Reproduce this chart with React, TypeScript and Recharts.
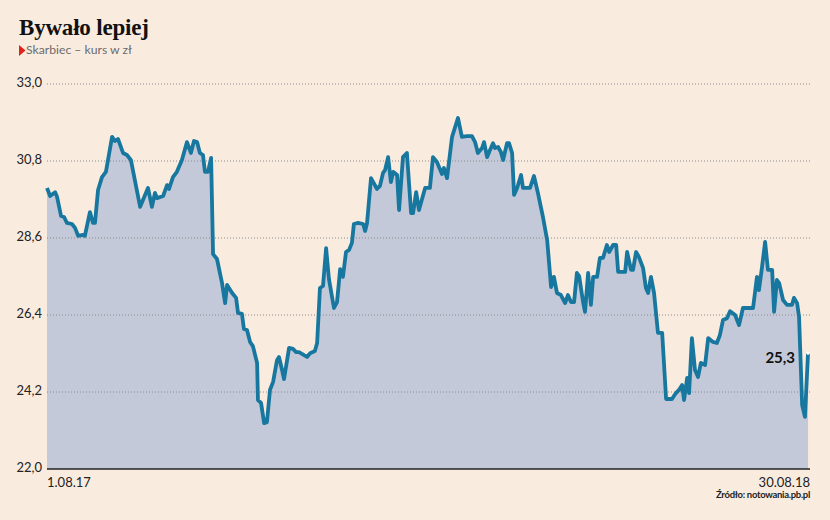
import { ComposedChart, Area, Line, XAxis, YAxis, ReferenceLine } from "recharts";

// numer sesji od 1.08.17 (odczyt z wykresu)
const sesja = [
  0, 1.1, 2.9, 3.6, 5.0, 6.1, 7.1, 8.9, 10.0, 11.1,
  12.8, 13.5, 15.3, 16.4, 17.1, 18.2, 19.6, 21.0, 23.2, 24.2,
  25.3, 27.1, 28.5, 29.9, 33.2, 36.0, 37.4, 38.5, 39.2, 41.4,
  42.8, 43.5, 44.9, 46.3, 48.1, 49.9, 51.3, 52.4, 53.5, 54.5,
  55.6, 56.3, 57.4, 58.5, 59.2, 60.6, 62.4, 63.5, 64.2, 66.0,
  67.4, 68.1, 69.5, 70.2, 71.3, 72.4, 73.4, 74.9, 75.2, 76.3,
  77.4, 78.4, 79.5, 80.6, 82.0, 82.7, 83.8, 84.5, 86.3, 87.7,
  88.8, 89.8, 90.9, 92.7, 93.8, 95.5, 96.3, 97.3, 98.4, 99.5,
  100.5, 102.3, 103.4, 104.5, 105.5, 106.6, 107.7, 108.7, 109.4, 110.9,
  112.7, 113.4, 114.1, 115.5, 116.9, 117.6, 118.7, 119.8, 120.5, 121.6,
  122.6, 123.4, 124.8, 125.5, 126.9, 128.3, 129.8, 130.5, 131.6, 132.6,
  134.8, 136.5, 137.6, 139.0, 140.8, 141.5, 142.6, 144.4, 146.5, 147.9,
  149.7, 151.5, 152.6, 153.6, 155.1, 155.8, 156.9, 157.9, 159.0, 159.7,
  160.8, 161.8, 162.6, 164.0, 164.7, 165.8, 166.5, 167.6, 169.0, 169.7,
  172.2, 173.6, 175.0, 176.8, 178.3, 179.7, 180.7, 181.8, 183.2, 184.7,
  185.7, 186.8, 187.9, 188.9, 189.7, 191.1, 191.8, 192.9, 193.9, 194.7,
  196.1, 197.1, 198.2, 199.6, 200.4, 201.8, 202.9, 203.6, 206.1, 206.8,
  208.2, 208.9, 210.0, 211.0, 212.5, 213.5, 214.3, 215.3, 216.4, 217.8,
  219.3, 220.7, 222.8, 224.2, 225.3, 226.4, 227.1, 228.2, 228.9, 229.9,
  231.0, 232.1, 233.1, 234.6, 235.7, 237.4, 238.8, 239.9, 241.0, 242.4,
  243.5, 245.3, 246.7, 248.1, 251.7, 253.1, 253.8, 254.9, 256.0, 257.0,
  258.5, 259.2, 260.2, 261.0, 262.4, 263.8, 265.6, 266.3, 267.4, 268.1,
  269.2, 270.2, 271.3,
];

// kurs Skarbca w zł
const kurs = [
  30.03, 29.80, 29.91, 29.77, 29.23, 29.20, 29.03, 29.00, 28.89, 28.66,
  28.69, 28.66, 29.34, 29.03, 29.03, 29.97, 30.34, 30.49, 31.49, 31.37,
  31.43, 31.03, 30.97, 30.83, 29.49, 30.03, 29.49, 29.89, 29.74, 29.80,
  30.11, 30.00, 30.34, 30.49, 30.83, 31.34, 31.03, 31.37, 31.34, 31.03,
  30.97, 30.49, 30.49, 30.89, 28.14, 28.00, 27.31, 26.74, 27.26, 27.03,
  26.89, 26.46, 26.43, 26.00, 25.97, 25.63, 25.51, 25.03, 23.97, 23.89,
  23.31, 23.34, 24.26, 24.49, 25.11, 25.20, 24.83, 24.57, 25.46, 25.43,
  25.34, 25.34, 25.29, 25.20, 25.31, 25.37, 25.60, 27.17, 27.23, 28.31,
  27.43, 26.60, 26.77, 27.71, 27.49, 28.20, 28.26, 28.46, 29.00, 29.03,
  29.00, 28.80, 29.03, 30.31, 30.11, 30.00, 30.09, 30.46, 30.54, 30.91,
  30.20, 30.49, 30.40, 29.40, 30.91, 31.03, 29.31, 29.31, 29.91, 29.40,
  30.03, 30.03, 30.91, 30.77, 30.43, 30.60, 30.31, 31.49, 32.03, 31.49,
  31.51, 31.51, 31.34, 31.03, 31.17, 31.34, 30.91, 31.11, 31.31, 31.17,
  31.20, 31.06, 30.83, 31.31, 31.31, 31.03, 29.83, 30.03, 30.40, 30.03,
  30.03, 30.37, 29.89, 29.20, 28.54, 27.20, 27.49, 27.03, 26.97, 26.74,
  26.97, 26.77, 26.77, 27.60, 27.51, 26.77, 26.49, 27.60, 26.69, 27.49,
  27.49, 28.03, 28.03, 28.40, 28.20, 28.40, 28.40, 27.63, 27.63, 28.20,
  27.69, 27.69, 28.20, 28.06, 27.74, 27.17, 27.03, 27.49, 27.03, 25.89,
  25.89, 24.00, 24.00, 24.17, 24.26, 24.40, 23.97, 24.60, 24.17, 25.74,
  24.83, 24.63, 25.03, 24.97, 25.74, 25.63, 25.60, 25.83, 26.26, 26.31,
  26.51, 26.40, 26.11, 26.60, 26.60, 27.49, 27.11, 27.77, 28.49, 27.69,
  27.69, 26.49, 27.40, 27.31, 26.83, 26.69, 26.69, 26.89, 26.74, 26.34,
  23.83, 23.49, 25.31,
];

const ticksY = [22, 24.2, 26.4, 28.6, 30.8, 33];
const ticksX = [0, 272];
const etykietyX = ["1.08.17", "30.08.18"];
const ostatniKurs = "25,3";

const dane = sesja.map((s, i) => ({ s, kurs: kurs[i] }));
const last = dane.length - 1;

const BLUE = "#17779f";
const fmt = (v: number) => v.toFixed(1).replace(".", ",");

const TickY = (props: any) => (
  <text x={props.x} y={props.y} dy={3} textAnchor="end" fontSize={13} fill="#222" fontFamily="Lato">
    {fmt(props.payload.value)}
  </text>
);

const TickX = (props: any) => {
  const i = ticksX.indexOf(props.payload.value);
  return (
    <text x={props.x} y={props.y} dy={18} textAnchor={i === 0 ? "start" : "end"} fontSize={13} fill="#222" fontFamily="Lato">
      {etykietyX[i]}
    </text>
  );
};

export default function App() {
  return (
    <div style={{ position: "absolute", left: 0, top: 0, width: 830, height: 520, background: "#faebdf", fontFamily: "Lato" }}>
      <div style={{ position: "absolute", left: 19, top: 15, fontFamily: "Liberation Serif", fontWeight: 700, fontSize: 23, lineHeight: "26px", color: "#111", letterSpacing: -0.2 }}>
        Bywało lepiej
      </div>
      <svg style={{ position: "absolute", left: 19, top: 45 }} width={7} height={12}>
        <polygon points="0,0 0,11 6.5,5.5" fill="#e2231a" />
      </svg>
      <div style={{ position: "absolute", left: 26, top: 42, fontSize: 12.2, lineHeight: "16px", color: "#6b6b6b" }}>
        Skarbiec – kurs w zł
      </div>
      <ComposedChart width={830} height={520} data={dane} margin={{ top: 84, right: 20, bottom: 21, left: 7 }}>
        <XAxis
          dataKey="s"
          type="number"
          domain={[0, 272]}
          ticks={ticksX}
          height={30}
          tickSize={0}
          tickMargin={0}
          tick={<TickX />}
          axisLine={{ stroke: "#222", strokeWidth: 1.5 }}
          tickLine={false}
        />
        <YAxis
          domain={[22, 33]}
          ticks={ticksY}
          width={40}
          tickSize={0}
          tickMargin={5}
          tick={<TickY />}
          axisLine={false}
          tickLine={false}
        />
        <Area dataKey="kurs" type="linear" fill="#c3c9d8" fillOpacity={1} stroke="none" isAnimationActive={false} />
        {ticksY.slice(1).map((v) => (
          <ReferenceLine key={v} y={v} stroke="#8c8c8c" strokeDasharray="1 2" strokeWidth={1} />
        ))}
        <Line
          dataKey="kurs"
          type="linear"
          stroke={BLUE}
          strokeWidth={3.8}
          strokeLinejoin="round"
          isAnimationActive={false}
          dot={(p: any) =>
            p.index === last ? (
              <circle key="end" cx={p.cx} cy={p.cy} r={1.6} fill="#fff" />
            ) : (
              <g key={p.index} />
            )
          }
          label={(p: any) =>
            p.index === last ? (
              <text key="lbl" x={p.x - 13} y={p.y + 10} textAnchor="end" fontSize={15} fontWeight={700} fill="#111" fontFamily="Lato">
                {ostatniKurs}
              </text>
            ) : (
              <g key={p.index} />
            )
          }
        />
      </ComposedChart>
      <div style={{ position: "absolute", right: 20, top: 489, fontSize: 9.5, fontWeight: 700, lineHeight: "12px", color: "#222", letterSpacing: -0.3 }}>
        Źródło: notowania.pb.pl
      </div>
    </div>
  );
}
